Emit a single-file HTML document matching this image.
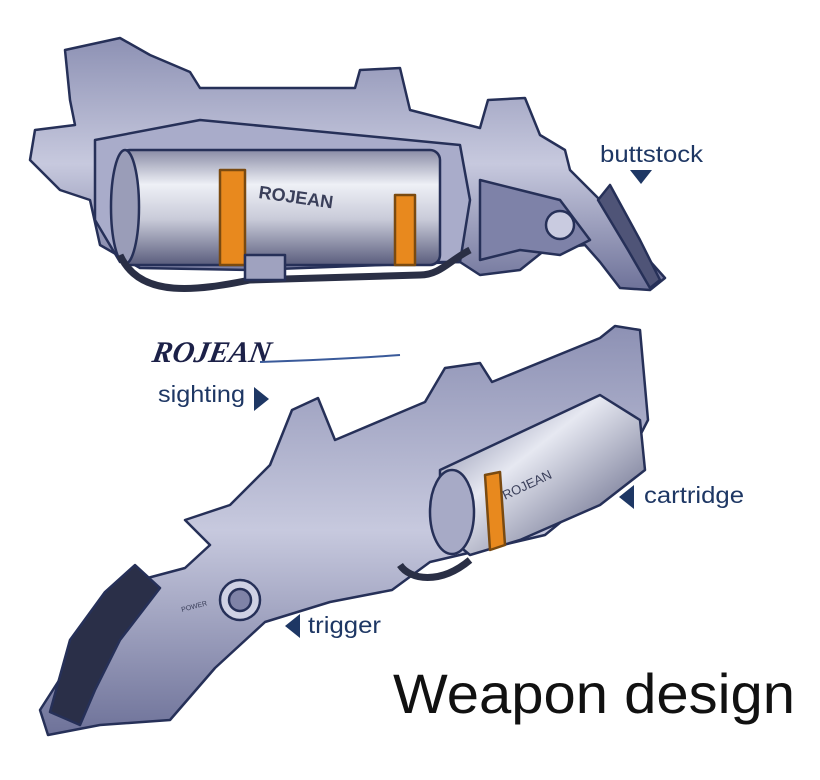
<!DOCTYPE html>
<html><head><meta charset="utf-8"><style>
html,body{margin:0;padding:0;background:#fff;}
svg{display:block}
.t{font-family:"Liberation Sans",sans-serif;fill:#1e3764;font-size:23px;}
</style></head><body>
<svg width="820" height="780" viewBox="0 0 820 780" xmlns="http://www.w3.org/2000/svg">
<defs>
<linearGradient id="cyl" x1="0" y1="0" x2="0" y2="1">
<stop offset="0" stop-color="#8a8ca6"/><stop offset="0.3" stop-color="#eef0f6"/><stop offset="0.6" stop-color="#c9cbd9"/><stop offset="1" stop-color="#5a5d7d"/></linearGradient>
<linearGradient id="body" x1="0" y1="0" x2="0" y2="1">
<stop offset="0" stop-color="#8d91b4"/><stop offset="0.5" stop-color="#c7c9de"/><stop offset="1" stop-color="#6e7299"/></linearGradient>
<linearGradient id="cyl2" x1="0" y1="0" x2="1" y2="1">
<stop offset="0" stop-color="#6f7396"/><stop offset="0.4" stop-color="#e6e8f1"/><stop offset="1" stop-color="#4a4e72"/></linearGradient>
</defs>
<!-- TOP GUN -->
<g stroke="#263058" stroke-width="2.5" stroke-linejoin="round">
<polygon fill="url(#body)" points="65,50 120,38 150,55 190,72 200,88 355,88 360,70 400,68 410,110 480,128 488,100 525,98 540,135 565,150 570,170 600,200 640,250 665,278 650,290 620,288 600,262 585,245 545,250 520,270 480,275 460,262 250,270 140,268 100,245 90,200 60,190 30,160 35,130 75,125 70,100"/>
<polygon fill="#a9acca" points="95,140 200,120 460,145 470,200 460,262 120,262 95,220"/>
<rect x="120" y="150" width="320" height="115" rx="10" fill="url(#cyl)"/>
<ellipse cx="125" cy="207" rx="14" ry="57" fill="#9a9db8"/>
<rect x="220" y="170" width="25" height="95" fill="#e8891e" stroke="#7a4a10"/>
<rect x="395" y="195" width="20" height="70" fill="#e8891e" stroke="#7a4a10"/>
<path d="M120,255 C140,300 200,290 250,280 L420,275 C440,275 450,260 470,250" fill="none" stroke="#2a2f45" stroke-width="7"/>
<rect x="245" y="255" width="40" height="25" fill="#9fa2bf"/>
<polygon fill="#7e82a8" points="480,180 520,190 560,200 590,240 560,255 520,250 480,260"/>
<circle cx="560" cy="225" r="14" fill="#c9cbe0"/>
<polygon fill="#4f5477" points="610,185 640,240 660,280 650,288 628,250 598,200"/>
</g>
<text x="258" y="198" font-family="Liberation Sans,sans-serif" font-size="18" font-weight="bold" fill="#3a3f5a" transform="rotate(8 258 198)">ROJEAN</text>
<text class="t" x="600" y="162" textLength="103" lengthAdjust="spacingAndGlyphs">buttstock</text>
<polygon points="630,170 652,170 641,184" fill="#1e3764"/>
<!-- LOGO -->
<text x="155" y="362" font-family="Liberation Serif,serif" font-style="italic" font-weight="bold" font-size="30" fill="#1c2148" transform="skewX(-10) translate(60 0)">ROJEAN</text>
<path d="M260,362 C320,360 360,358 400,355" stroke="#3a5a9a" stroke-width="2" fill="none"/>
<!-- BOTTOM GUN -->
<g stroke="#263058" stroke-width="2.5" stroke-linejoin="round">
<polygon fill="url(#body)" points="140,580 185,568 210,545 185,520 230,505 270,465 292,410 318,398 335,440 425,402 445,368 480,363 492,382 600,338 615,326 640,330 648,420 630,455 600,490 545,535 430,562 392,590 330,602 265,622 215,668 170,720 100,725 48,735 40,710 85,640"/>
<polygon fill="url(#cyl2)" points="440,470 600,395 640,420 645,470 600,505 520,540 470,555 440,530"/>
<ellipse cx="452" cy="512" rx="22" ry="42" fill="#a7aac6"/>
<polygon fill="#e8891e" stroke="#7a4a10" points="485,475 500,472 505,545 490,550"/>
<polygon fill="#2a2f48" points="50,712 70,640 105,592 135,565 160,588 120,640 95,690 80,725"/>
<circle cx="240" cy="600" r="20" fill="#cfd1e4"/>
<circle cx="240" cy="600" r="11" fill="#7f83a7"/>
<path d="M400,565 C410,580 440,585 470,560" stroke="#2a2f45" stroke-width="7" fill="none"/>
</g>
<text x="505" y="500" font-family="Liberation Sans,sans-serif" font-size="13" fill="#3a3f5a" transform="rotate(-25 505 500)">ROJEAN</text>
<text x="182" y="612" font-family="Liberation Sans,sans-serif" font-size="7" fill="#3a3f5a" transform="rotate(-15 182 612)">POWER</text>
<text class="t" x="158" y="402" textLength="87" lengthAdjust="spacingAndGlyphs">sighting</text>
<polygon points="254,387 254,411 269,399" fill="#1e3764"/>
<polygon points="634,485 634,509 619,497" fill="#1e3764"/>
<text class="t" x="644" y="503" textLength="100" lengthAdjust="spacingAndGlyphs">cartridge</text>
<polygon points="300,614 300,638 285,626" fill="#1e3764"/>
<text class="t" x="308" y="633" textLength="73" lengthAdjust="spacingAndGlyphs">trigger</text>
<text x="393" y="713" font-family="Liberation Sans,sans-serif" font-size="56" fill="#111" textLength="402" lengthAdjust="spacingAndGlyphs">Weapon design</text>
</svg>
</body></html>
